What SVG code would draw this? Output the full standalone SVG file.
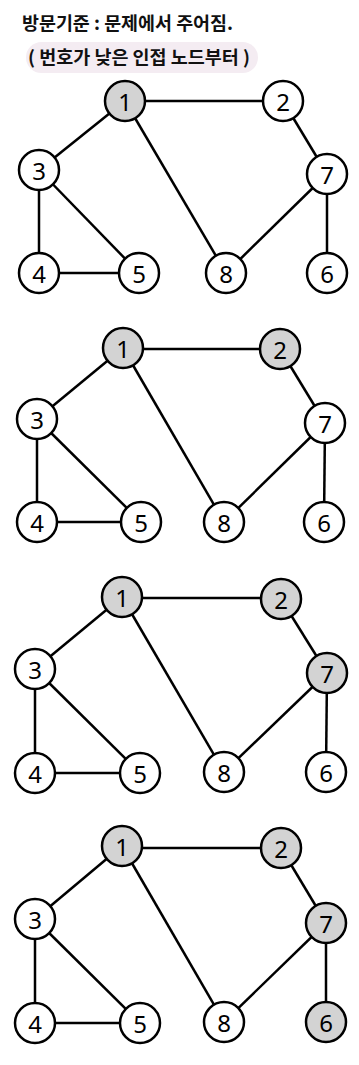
<svg xmlns="http://www.w3.org/2000/svg" width="359" height="1065" viewBox="0 0 359 1065">
<defs>
<style>
.e{stroke:#000;stroke-width:2.5;fill:none}
.n circle{fill:#fff;stroke:#000;stroke-width:2.5}
.n.v circle{fill:#d3d3d3}
.n text{font-family:"Noto Sans","DejaVu Sans",sans-serif;font-size:24px;text-anchor:middle;dominant-baseline:central;fill:#000}
.h{font-family:"Noto Sans CJK KR","Noto Sans",sans-serif;font-weight:bold;font-size:18px;fill:#111}
</style>
</defs>
<rect width="359" height="1065" fill="#fff"/>
<g id="header">
<rect x="26" y="42" width="232" height="31" rx="15.5" fill="#f4ecf2"/>
<text class="h" x="22" y="30" textLength="211" lengthAdjust="spacingAndGlyphs">방문기준 : 문제에서 주어짐.</text>
<text class="h" x="28" y="64" textLength="222" lengthAdjust="spacingAndGlyphs">( 번호가 낮은 인접 노드부터 )</text>
</g>

<!-- Panel 1 -->
<g id="p1">
<g id="p1-edges">
<line class="e" x1="125" y1="101" x2="283" y2="101"/>
<line class="e" x1="125" y1="101" x2="39" y2="170"/>
<line class="e" x1="125" y1="101" x2="226" y2="273"/>
<line class="e" x1="283" y1="101" x2="327" y2="174"/>
<line class="e" x1="39" y1="170" x2="39" y2="273"/>
<line class="e" x1="39" y1="170" x2="139" y2="273"/>
<line class="e" x1="39" y1="273" x2="139" y2="273"/>
<line class="e" x1="327" y1="174" x2="226" y2="273"/>
<line class="e" x1="327" y1="174" x2="327" y2="273"/>
</g>
<g id="p1-n1" class="n v"><circle cx="125" cy="101" r="20"/><text x="125" y="101">1</text></g>
<g id="p1-n2" class="n"><circle cx="283" cy="101" r="20"/><text x="283" y="101">2</text></g>
<g id="p1-n3" class="n"><circle cx="39" cy="170" r="20"/><text x="39" y="170">3</text></g>
<g id="p1-n7" class="n"><circle cx="327" cy="174" r="20"/><text x="327" y="174">7</text></g>
<g id="p1-n4" class="n"><circle cx="39" cy="273" r="20"/><text x="39" y="273">4</text></g>
<g id="p1-n5" class="n"><circle cx="139" cy="273" r="20"/><text x="139" y="273">5</text></g>
<g id="p1-n8" class="n"><circle cx="226" cy="273" r="20"/><text x="226" y="273">8</text></g>
<g id="p1-n6" class="n"><circle cx="327" cy="273" r="20"/><text x="327" y="273">6</text></g>
</g>

<!-- Panel 2 -->
<g id="p2">
<g id="p2-edges">
<line class="e" x1="123" y1="349" x2="280" y2="349"/>
<line class="e" x1="123" y1="348" x2="37" y2="419"/>
<line class="e" x1="123" y1="348" x2="224" y2="522"/>
<line class="e" x1="280" y1="349" x2="325" y2="423"/>
<line class="e" x1="37" y1="419" x2="37" y2="522"/>
<line class="e" x1="37" y1="419" x2="141" y2="522"/>
<line class="e" x1="37" y1="522" x2="141" y2="522"/>
<line class="e" x1="325" y1="423" x2="224" y2="522"/>
<line class="e" x1="325" y1="423" x2="324" y2="522"/>
</g>
<g id="p2-n1" class="n v"><circle cx="123" cy="348" r="20"/><text x="123" y="348">1</text></g>
<g id="p2-n2" class="n v"><circle cx="280" cy="349" r="20"/><text x="280" y="349">2</text></g>
<g id="p2-n3" class="n"><circle cx="37" cy="419" r="20"/><text x="37" y="419">3</text></g>
<g id="p2-n7" class="n"><circle cx="325" cy="423" r="20"/><text x="325" y="423">7</text></g>
<g id="p2-n4" class="n"><circle cx="37" cy="522" r="20"/><text x="37" y="522">4</text></g>
<g id="p2-n5" class="n"><circle cx="141" cy="522" r="20"/><text x="141" y="522">5</text></g>
<g id="p2-n8" class="n"><circle cx="224" cy="522" r="20"/><text x="224" y="522">8</text></g>
<g id="p2-n6" class="n"><circle cx="324" cy="522" r="20"/><text x="324" y="522">6</text></g>
</g>

<!-- Panel 3 -->
<g id="p3">
<g id="p3-edges">
<line class="e" x1="122" y1="598" x2="281" y2="598"/>
<line class="e" x1="122" y1="597" x2="35" y2="669"/>
<line class="e" x1="122" y1="597" x2="224" y2="772"/>
<line class="e" x1="281" y1="599" x2="327" y2="673"/>
<line class="e" x1="35" y1="669" x2="35" y2="773"/>
<line class="e" x1="35" y1="669" x2="140" y2="773"/>
<line class="e" x1="35" y1="773" x2="140" y2="773"/>
<line class="e" x1="327" y1="673" x2="224" y2="772"/>
<line class="e" x1="327" y1="673" x2="326" y2="772"/>
</g>
<g id="p3-n1" class="n v"><circle cx="122" cy="597" r="20"/><text x="122" y="597">1</text></g>
<g id="p3-n2" class="n v"><circle cx="281" cy="599" r="20"/><text x="281" y="599">2</text></g>
<g id="p3-n3" class="n"><circle cx="35" cy="669" r="20"/><text x="35" y="669">3</text></g>
<g id="p3-n7" class="n v"><circle cx="327" cy="673" r="20"/><text x="327" y="673">7</text></g>
<g id="p3-n4" class="n"><circle cx="35" cy="773" r="20"/><text x="35" y="773">4</text></g>
<g id="p3-n5" class="n"><circle cx="140" cy="773" r="20"/><text x="140" y="773">5</text></g>
<g id="p3-n8" class="n"><circle cx="224" cy="772" r="20"/><text x="224" y="772">8</text></g>
<g id="p3-n6" class="n"><circle cx="326" cy="772" r="20"/><text x="326" y="772">6</text></g>
</g>

<!-- Panel 4 -->
<g id="p4">
<g id="p4-edges">
<line class="e" x1="122" y1="848" x2="281" y2="848"/>
<line class="e" x1="122" y1="846" x2="35" y2="919"/>
<line class="e" x1="122" y1="846" x2="224" y2="1022"/>
<line class="e" x1="281" y1="848" x2="326" y2="923"/>
<line class="e" x1="35" y1="919" x2="35" y2="1023"/>
<line class="e" x1="35" y1="919" x2="140" y2="1023"/>
<line class="e" x1="35" y1="1023" x2="140" y2="1023"/>
<line class="e" x1="326" y1="923" x2="224" y2="1022"/>
<line class="e" x1="326" y1="923" x2="326" y2="1022"/>
</g>
<g id="p4-n1" class="n v"><circle cx="122" cy="846" r="20"/><text x="122" y="846">1</text></g>
<g id="p4-n2" class="n v"><circle cx="281" cy="848" r="20"/><text x="281" y="848">2</text></g>
<g id="p4-n3" class="n"><circle cx="35" cy="919" r="20"/><text x="35" y="919">3</text></g>
<g id="p4-n7" class="n v"><circle cx="326" cy="923" r="20"/><text x="326" y="923">7</text></g>
<g id="p4-n4" class="n"><circle cx="35" cy="1023" r="20"/><text x="35" y="1023">4</text></g>
<g id="p4-n5" class="n"><circle cx="140" cy="1023" r="20"/><text x="140" y="1023">5</text></g>
<g id="p4-n8" class="n"><circle cx="224" cy="1022" r="20"/><text x="224" y="1022">8</text></g>
<g id="p4-n6" class="n v"><circle cx="326" cy="1022" r="20"/><text x="326" y="1022">6</text></g>
</g>
</svg>
